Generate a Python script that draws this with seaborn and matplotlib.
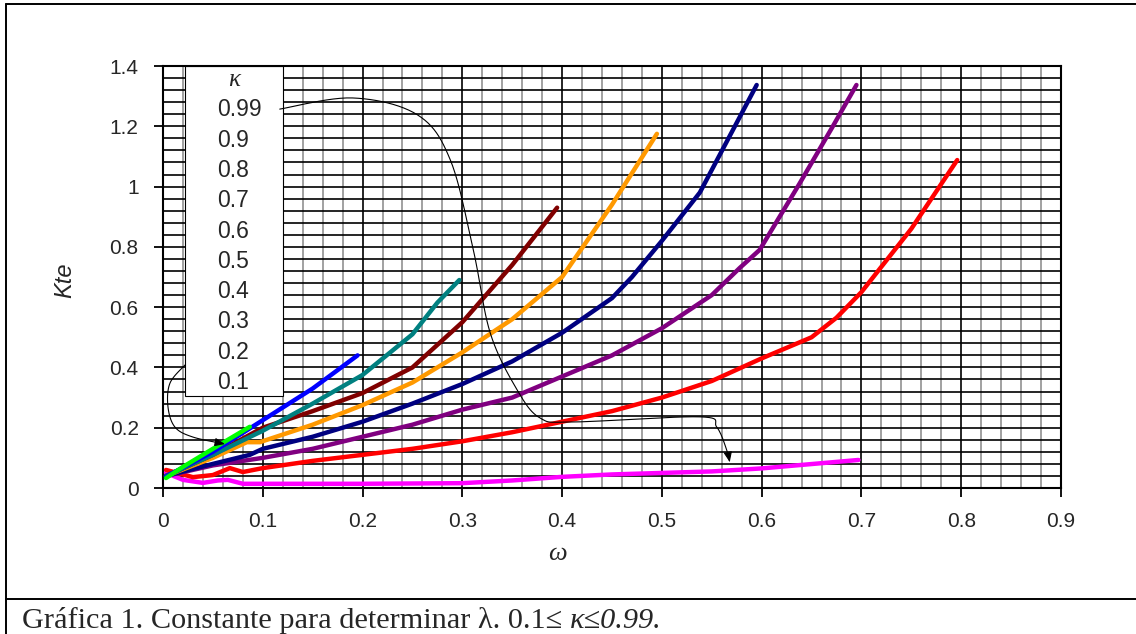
import numpy as np
import pandas as pd
import matplotlib
matplotlib.use("Agg")
import matplotlib.pyplot as plt
from matplotlib.lines import Line2D
from matplotlib.patches import Rectangle
from matplotlib.ticker import MultipleLocator
import seaborn as sns

# ---- series: omega vs Kte for each kappa ----
k01_x = [0.003, 0.02, 0.04, 0.06, 0.087]
k01_y = [0.033, 0.07, 0.11, 0.15, 0.203]

k02_x = [0.003, 0.05, 0.10, 0.15, 0.195]
k02_y = [0.038, 0.12, 0.225, 0.33, 0.44]

k03_x = [0.003, 0.05, 0.10, 0.15, 0.20, 0.25, 0.275, 0.297]
k03_y = [0.040, 0.11, 0.19, 0.28, 0.375, 0.51, 0.615, 0.69]

k04_x = [0.003, 0.05, 0.10, 0.15, 0.20, 0.25, 0.30, 0.35, 0.395]
k04_y = [0.040, 0.11, 0.20, 0.255, 0.315, 0.40, 0.55, 0.74, 0.93]

k05_x = [0.003, 0.05, 0.084, 0.097, 0.15, 0.20, 0.25, 0.30, 0.35, 0.40, 0.45, 0.495]
k05_y = [0.040, 0.10, 0.152, 0.152, 0.21, 0.275, 0.35, 0.45, 0.56, 0.70, 0.94, 1.175]

k06_x = [0.003, 0.05, 0.087, 0.10, 0.15, 0.20, 0.25, 0.30, 0.35, 0.40, 0.45, 0.47, 0.50, 0.538, 0.595]
k06_y = [0.040, 0.08, 0.11, 0.13, 0.17, 0.22, 0.28, 0.345, 0.42, 0.515, 0.63, 0.70, 0.82, 0.98, 1.337]

k07_x = [0.003, 0.05, 0.10, 0.15, 0.20, 0.25, 0.30, 0.35, 0.40, 0.45, 0.50, 0.55, 0.578, 0.598, 0.638, 0.671, 0.695]
k07_y = [0.040, 0.075, 0.10, 0.13, 0.17, 0.21, 0.26, 0.30, 0.37, 0.44, 0.53, 0.64, 0.73, 0.79, 1.01, 1.198, 1.337]

k08_x = [0.003, 0.03, 0.05, 0.067, 0.08, 0.10, 0.15, 0.20, 0.25, 0.30, 0.35, 0.40, 0.45, 0.50,
         0.55, 0.578, 0.60, 0.65, 0.675, 0.70, 0.75, 0.796]
k08_y = [0.060, 0.036, 0.043, 0.066, 0.053, 0.066, 0.09, 0.11, 0.13, 0.155, 0.185, 0.22, 0.255, 0.30,
         0.355, 0.397, 0.43, 0.50, 0.565, 0.65, 0.86, 1.088]

k099_x = [0.003, 0.02, 0.04, 0.055, 0.065, 0.08, 0.10, 0.20, 0.30, 0.35, 0.40, 0.45, 0.50, 0.55,
          0.60, 0.638, 0.697]
k099_y = [0.050, 0.027, 0.017, 0.025, 0.027, 0.014, 0.014, 0.014, 0.016, 0.025, 0.037, 0.045, 0.05,
          0.055, 0.065, 0.076, 0.093]

series = {
    "0.1": (k01_x, k01_y),
    "0.2": (k02_x, k02_y),
    "0.3": (k03_x, k03_y),
    "0.4": (k04_x, k04_y),
    "0.5": (k05_x, k05_y),
    "0.6": (k06_x, k06_y),
    "0.7": (k07_x, k07_y),
    "0.8": (k08_x, k08_y),
    "0.99": (k099_x, k099_y),
}
colors = {
    "0.1": "#00FF00", "0.2": "#0000FF", "0.3": "#008080", "0.4": "#800000",
    "0.5": "#FF9900", "0.6": "#000080", "0.7": "#800080", "0.8": "#FF0000",
    "0.99": "#FF00FF",
}
draw_order = ["0.99", "0.8", "0.7", "0.6", "0.5", "0.4", "0.3", "0.2", "0.1"]

legend_labels = ["0.99", "0.9", "0.8", "0.7", "0.6", "0.5", "0.4", "0.3", "0.2", "0.1"]

x_ticks = [0, 0.1, 0.2, 0.3, 0.4, 0.5, 0.6, 0.7, 0.8, 0.9]
y_ticks = [0, 0.2, 0.4, 0.6, 0.8, 1.0, 1.2, 1.4]
x_tick_labels = ["0", "0.1", "0.2", "0.3", "0.4", "0.5", "0.6", "0.7", "0.8", "0.9"]
y_tick_labels = ["0", "0.2", "0.4", "0.6", "0.8", "1", "1.2", "1.4"]

caption_upright = "Gráfica 1. Constante para determinar λ. 0.1≤ "
caption_italic = "κ≤0.99."

# connector paths from the key labels to their curves
arrow_099 = [(0.117, 1.257), (0.190, 1.294), (0.255, 1.238), (0.288, 1.088), (0.311, 0.79),
             (0.328, 0.514), (0.355, 0.325), (0.378, 0.232), (0.411, 0.219), (0.538, 0.236),
             (0.555, 0.202), (0.565, 0.126), (0.568, 0.086)]
arrow_01 = [(0.022, 0.408), (0.007, 0.348), (0.005, 0.269), (0.012, 0.202), (0.030, 0.169),
            (0.062, 0.146)]

rows = []
for k in draw_order:
    xs, ys = series[k]
    for i, (xv, yv) in enumerate(zip(xs, ys)):
        rows.append({"kappa": k, "omega": xv, "Kte": yv, "idx": i})
df = pd.DataFrame(rows)

sns.set_style("white")
plt.rcParams["font.family"] = ["Liberation Sans", "DejaVu Sans"]

W, H = 1136, 634
fig = plt.figure(figsize=(W / 100, H / 100), dpi=100)
ax = fig.add_axes([163 / W, 1 - 488 / H, (1061 - 163) / W, (488 - 66) / H])

ax.set_xlim(0, 0.9)
ax.set_ylim(0, 1.4)
ax.set_xticks(x_ticks)
ax.set_xticklabels(x_tick_labels)
ax.set_yticks(y_ticks)
ax.set_yticklabels(y_tick_labels)
ax.xaxis.set_minor_locator(MultipleLocator(0.02))
ax.yaxis.set_minor_locator(MultipleLocator(0.04))
ax.set_axisbelow(True)
ax.grid(which="minor", axis="x", color="#9a9a9a", linewidth=1.3)
ax.grid(which="major", axis="x", color="black", linewidth=1.2)
ax.grid(which="both", axis="y", color="black", linewidth=1.2)
ax.tick_params(which="major", direction="out", length=6.5, width=1.3, pad=11,
               labelsize=15, color="black", bottom=True, left=True)
ax.tick_params(which="minor", length=0)
for s in ax.spines.values():
    s.set_color("black")
    s.set_linewidth(1.5)

sns.lineplot(data=df, x="omega", y="Kte", hue="kappa", palette=colors,
             hue_order=draw_order, units="kappa", estimator=None, sort=False,
             linewidth=3.2, legend=False, ax=ax, zorder=3)
ax.set_xlabel("")
ax.set_ylabel("")

# key box
box_x0, box_x1, box_y0 = 0.022, 0.1205, 0.305
ax.add_patch(Rectangle((box_x0, box_y0), box_x1 - box_x0, 1.4 - box_y0,
                       facecolor="white", edgecolor="black", linewidth=0.8, zorder=2.5))
step = (1.4 - box_y0) / 10.9
ax.text(0.5 * (box_x0 + box_x1), 1.4 - 0.45 * step, "κ", ha="center", va="center",
        fontsize=18, style="italic", family=["Liberation Serif"], zorder=4)
for i, lab in enumerate(legend_labels):
    ax.text(box_x0 + 0.33 * (box_x1 - box_x0), 1.4 - (i + 1.45) * step, lab,
            ha="left", va="center", fontsize=16.5, zorder=4)


def smooth(points, n=12):
    p = np.array(points, dtype=float)
    p = np.vstack([p[0], p, p[-1]])
    out = []
    for i in range(1, len(p) - 2):
        p0, p1, p2, p3 = p[i - 1], p[i], p[i + 1], p[i + 2]
        for t in np.linspace(0, 1, n, endpoint=False):
            t2, t3 = t * t, t * t * t
            out.append(0.5 * ((2 * p1) + (-p0 + p2) * t + (2 * p0 - 5 * p1 + 4 * p2 - p3) * t2
                              + (-p0 + 3 * p1 - 3 * p2 + p3) * t3))
    out.append(p[-2])
    return np.array(out)


for path in (arrow_099, arrow_01):
    sp = smooth(path)
    ax.plot(sp[:-2, 0], sp[:-2, 1], color="black", linewidth=0.8, zorder=4)
    ax.annotate("", xy=tuple(sp[-1]), xytext=tuple(sp[-4]),
                arrowprops=dict(arrowstyle="-|>,head_length=0.6,head_width=0.25",
                                color="black", linewidth=0.8, shrinkA=0, shrinkB=0),
                zorder=4)

# axis titles
fig.text(65 / W, 1 - 280 / H, "Kte", rotation=90, ha="center", va="center",
         fontsize=17, style="italic")
fig.text(557 / W, 1 - 554 / H, "ω", ha="center", va="center", fontsize=19,
         style="italic", family=["Liberation Serif"])

# outer frame
def fline(x0, y0, x1, y1):
    fig.add_artist(Line2D([x0 / W, x1 / W], [1 - y0 / H, 1 - y1 / H], color="black",
                          linewidth=1.4, transform=fig.transFigure))

fline(6, 4, W, 4)
fline(6, 4, 6, H)
fline(6, 599, W, 599)

# caption: upright part followed by italic part
cap1 = fig.text(22 / W, 1 - 628 / H, caption_upright, ha="left", va="baseline",
                fontsize=21.8, family=["Liberation Serif"])
renderer = fig.canvas.get_renderer()
bb = cap1.get_window_extent(renderer=renderer)
fig.text(bb.x1 / W, 1 - 628 / H, caption_italic, ha="left", va="baseline",
         fontsize=21.8, style="italic", family=["Liberation Serif"])

fig.savefig("out.png", dpi=100)
